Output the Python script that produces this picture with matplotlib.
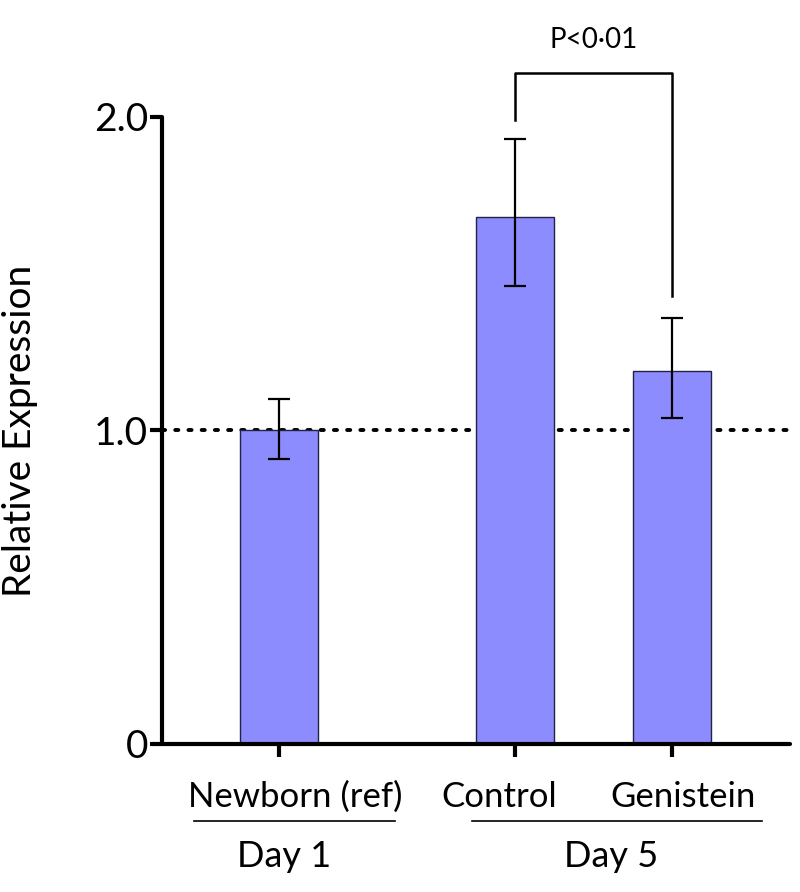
import matplotlib.pyplot as plt

plt.rcParams['font.family'] = ['Lato', 'DejaVu Sans']

# Data
groups = ['Newborn (ref)', 'Control', 'Genistein']
positions = [0, 1.5, 2.5]
means = [1.0, 1.68, 1.19]
err_hi = [0.10, 0.25, 0.17]
err_lo = [0.09, 0.22, 0.15]
days = ['Day 1', 'Day 5']
p_text = 'P<0\u00b701'

fig = plt.figure(figsize=(8, 8.92), dpi=100)
ax = fig.add_axes([0.2025, 0.166, 0.785, 0.703])

ax.bar(positions, means, width=0.5, color='#8c8cff', edgecolor='#222244',
       linewidth=1, zorder=2)
ax.errorbar(positions, means, yerr=[err_lo, err_hi], fmt='none', ecolor='black',
            elinewidth=1.6, capsize=8, capthick=1.6, zorder=3)

# reference line at 1.0
ax.axhline(1.0, color='black', linestyle=(0, (0.8, 2.6)), linewidth=2.8,
           dash_capstyle='round', zorder=1)

ax.set_xlim(-0.745, 3.25)
ax.set_ylim(0, 2.0)
ax.set_yticks([0, 1, 2])
ax.set_yticklabels(['0', '1.0', '2.0'], fontsize=28)
ax.set_xticks(positions)
ax.set_xticklabels([])
ax.tick_params(axis='both', width=3, length=9)
ax.tick_params(axis='y', pad=1)
for side in ['top', 'right']:
    ax.spines[side].set_visible(False)
for side in ['left', 'bottom']:
    ax.spines[side].set_linewidth(3)
    ax.spines[side].set_capstyle('round')
ax.set_ylabel('Relative Expression', fontsize=28, labelpad=40)

# significance bracket
ax.plot([1.5, 1.5, 2.5, 2.5], [1.99, 2.14, 2.14, 1.43], color='black',
        linewidth=1.8, clip_on=False)
ax.text(2.0, 2.245, p_text, ha='center', va='center', fontsize=20)

# group labels below the axis
label_x = [0.1, 1.4, 2.57]
for x, g in zip(label_x, groups):
    ax.text(x, -0.17, g, ha='center', va='center', fontsize=25)
ax.plot([-0.54, 0.74], [-0.245, -0.245], color='black', lw=1.2, clip_on=False)
ax.plot([1.23, 3.07], [-0.245, -0.245], color='black', lw=1.2, clip_on=False)
ax.text(0.03, -0.36, days[0], ha='center', va='center', fontsize=26)
ax.text(2.11, -0.36, days[1], ha='center', va='center', fontsize=26)

fig.savefig('out.png', dpi=100)
